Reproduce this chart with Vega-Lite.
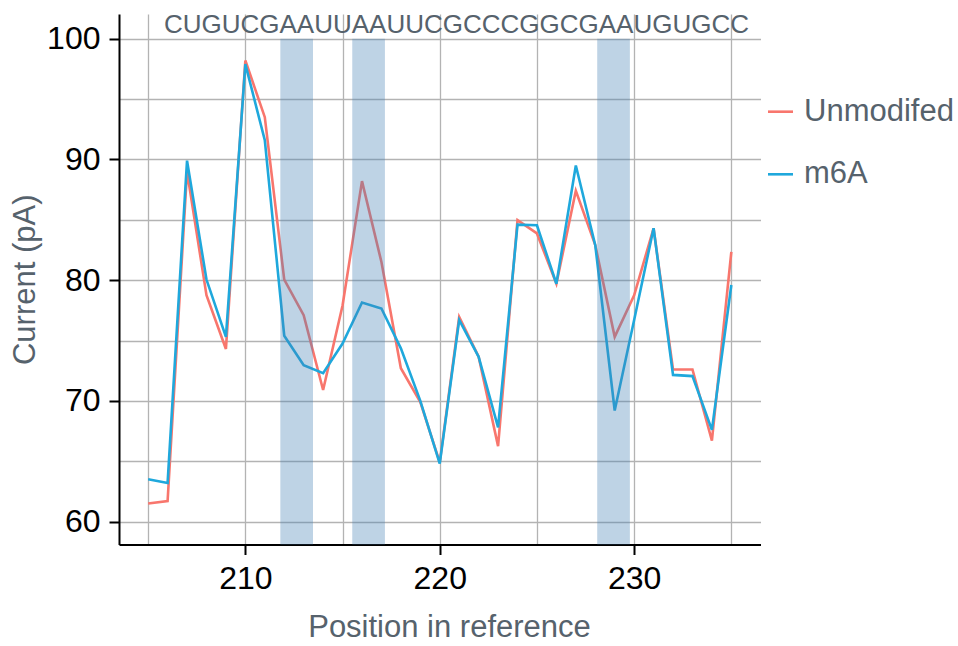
{
  "$schema": "https://vega.github.io/schema/vega-lite/v6.json",
  "width": 641.5,
  "height": 530.5,
  "autosize": {"type": "none"},
  "padding": {"left": 119, "top": 14, "right": 197.5, "bottom": 101.5},
  "background": "white",
  "config": {
    "view": {"stroke": null},
    "font": "Liberation Sans",
    "axis": {
      "domainColor": "black",
      "domainWidth": 2,
      "tickColor": "black",
      "tickWidth": 2,
      "tickSize": 10,
      "labelColor": "black",
      "labelFont": "Liberation Sans",
      "labelFontSize": 32,
      "labelPadding": 9,
      "titleFont": "Liberation Sans",
      "titleFontSize": 31,
      "titleFontWeight": "normal",
      "titleColor": "#56626c",
      "gridColor": "#b3b3b3",
      "gridWidth": 1.3
    }
  },
  "datasets": {
    "signal": [
      {"position": 205, "condition": "Unmodifed", "current": 61.5},
      {"position": 206, "condition": "Unmodifed", "current": 61.7},
      {"position": 207, "condition": "Unmodifed", "current": 89.0},
      {"position": 208, "condition": "Unmodifed", "current": 78.75},
      {"position": 209, "condition": "Unmodifed", "current": 74.3},
      {"position": 210, "condition": "Unmodifed", "current": 98.2},
      {"position": 211, "condition": "Unmodifed", "current": 93.5},
      {"position": 212, "condition": "Unmodifed", "current": 80.05},
      {"position": 213, "condition": "Unmodifed", "current": 77.1},
      {"position": 214, "condition": "Unmodifed", "current": 70.9},
      {"position": 215, "condition": "Unmodifed", "current": 77.9},
      {"position": 216, "condition": "Unmodifed", "current": 88.2},
      {"position": 217, "condition": "Unmodifed", "current": 81.5},
      {"position": 218, "condition": "Unmodifed", "current": 72.7},
      {"position": 219, "condition": "Unmodifed", "current": 69.9},
      {"position": 220, "condition": "Unmodifed", "current": 64.9},
      {"position": 221, "condition": "Unmodifed", "current": 76.95},
      {"position": 222, "condition": "Unmodifed", "current": 73.65},
      {"position": 223, "condition": "Unmodifed", "current": 66.25},
      {"position": 224, "condition": "Unmodifed", "current": 84.97},
      {"position": 225, "condition": "Unmodifed", "current": 83.87},
      {"position": 226, "condition": "Unmodifed", "current": 79.7},
      {"position": 227, "condition": "Unmodifed", "current": 87.4},
      {"position": 228, "condition": "Unmodifed", "current": 82.9},
      {"position": 229, "condition": "Unmodifed", "current": 75.3},
      {"position": 230, "condition": "Unmodifed", "current": 78.75},
      {"position": 231, "condition": "Unmodifed", "current": 84.3},
      {"position": 232, "condition": "Unmodifed", "current": 72.6},
      {"position": 233, "condition": "Unmodifed", "current": 72.6},
      {"position": 234, "condition": "Unmodifed", "current": 66.7},
      {"position": 235, "condition": "Unmodifed", "current": 82.35},
      {"position": 205, "condition": "m6A", "current": 63.5},
      {"position": 206, "condition": "m6A", "current": 63.2},
      {"position": 207, "condition": "m6A", "current": 89.9},
      {"position": 208, "condition": "m6A", "current": 80.05},
      {"position": 209, "condition": "m6A", "current": 75.3},
      {"position": 210, "condition": "m6A", "current": 97.9},
      {"position": 211, "condition": "m6A", "current": 91.6},
      {"position": 212, "condition": "m6A", "current": 75.4},
      {"position": 213, "condition": "m6A", "current": 72.95},
      {"position": 214, "condition": "m6A", "current": 72.3},
      {"position": 215, "condition": "m6A", "current": 74.75},
      {"position": 216, "condition": "m6A", "current": 78.15},
      {"position": 217, "condition": "m6A", "current": 77.65},
      {"position": 218, "condition": "m6A", "current": 74.35},
      {"position": 219, "condition": "m6A", "current": 70.0},
      {"position": 220, "condition": "m6A", "current": 64.8},
      {"position": 221, "condition": "m6A", "current": 76.7},
      {"position": 222, "condition": "m6A", "current": 73.65},
      {"position": 223, "condition": "m6A", "current": 67.8},
      {"position": 224, "condition": "m6A", "current": 84.6},
      {"position": 225, "condition": "m6A", "current": 84.55},
      {"position": 226, "condition": "m6A", "current": 79.7},
      {"position": 227, "condition": "m6A", "current": 89.5},
      {"position": 228, "condition": "m6A", "current": 82.9},
      {"position": 229, "condition": "m6A", "current": 69.2},
      {"position": 230, "condition": "m6A", "current": 76.7},
      {"position": 231, "condition": "m6A", "current": 84.3},
      {"position": 232, "condition": "m6A", "current": 72.15},
      {"position": 233, "condition": "m6A", "current": 72.05},
      {"position": 234, "condition": "m6A", "current": 67.6},
      {"position": 235, "condition": "m6A", "current": 79.6}
    ],
    "bands": [
      {"start": 211.8, "end": 213.48},
      {"start": 215.5, "end": 217.18},
      {"start": 228.1, "end": 229.78}
    ],
    "sequence": [
      {"seq": "CUGUCGAAUUAAUUCGCCCGGCGAAUGUGCC"}
    ]
  },
  "layer": [
    {
      "data": {"name": "signal"},
      "mark": {"type": "line", "strokeWidth": 2.6},
      "encoding": {
        "x": {
          "field": "position",
          "type": "quantitative",
          "scale": {"domain": [203.5, 236.5], "nice": false, "zero": false},
          "axis": {
            "title": "Position in reference",
            "values": [205, 210, 215, 220, 225, 230, 235],
            "labelExpr": "datum.value % 10 === 0 ? datum.label : ''",
            "tickOpacity": {"condition": {"test": "datum.value % 10 === 0", "value": 1}, "value": 0},
            "titlePadding": 18,
            "titleX": 330,
            "labelFlush": false,
            "labelOverlap": false
          }
        },
        "y": {
          "field": "current",
          "type": "quantitative",
          "scale": {"domain": [58.1, 102.05], "nice": false, "zero": false},
          "axis": {
            "title": "Current (pA)",
            "values": [60, 65, 70, 75, 80, 85, 90, 95, 100],
            "labelExpr": "datum.value % 10 === 0 ? datum.label : ''",
            "tickOpacity": {"condition": {"test": "datum.value % 10 === 0", "value": 1}, "value": 0},
            "titlePadding": 5,
            "labelFlush": false,
            "labelOverlap": false
          }
        },
        "color": {
          "field": "condition",
          "type": "nominal",
          "scale": {"domain": ["Unmodifed", "m6A"], "range": ["#F8766D", "#1FA8DC"]},
          "legend": {
            "title": null,
            "orient": "none",
            "legendX": 646,
            "legendY": 82.2,
            "padding": 0,
            "symbolType": "stroke",
            "symbolSize": 625,
            "symbolStrokeWidth": 2.6,
            "labelFont": "Liberation Sans",
            "labelFontSize": 31,
            "labelColor": "#56626c",
            "labelOffset": 8,
            "rowPadding": 30.6
          }
        }
      }
    },
    {
      "data": {"name": "bands"},
      "mark": {"type": "rect", "color": "#4682b4", "opacity": 0.35},
      "encoding": {
        "x": {"field": "start", "type": "quantitative"},
        "x2": {"field": "end"},
        "y": {"datum": 100},
        "y2": {"datum": 58.1}
      }
    },
    {
      "data": {"name": "sequence"},
      "mark": {"type": "text", "font": "Liberation Sans", "fontSize": 26, "color": "#56626c", "align": "center", "baseline": "alphabetic"},
      "encoding": {
        "text": {"field": "seq"},
        "x": {"datum": 220.86},
        "y": {"datum": 100.44}
      }
    }
  ]
}
